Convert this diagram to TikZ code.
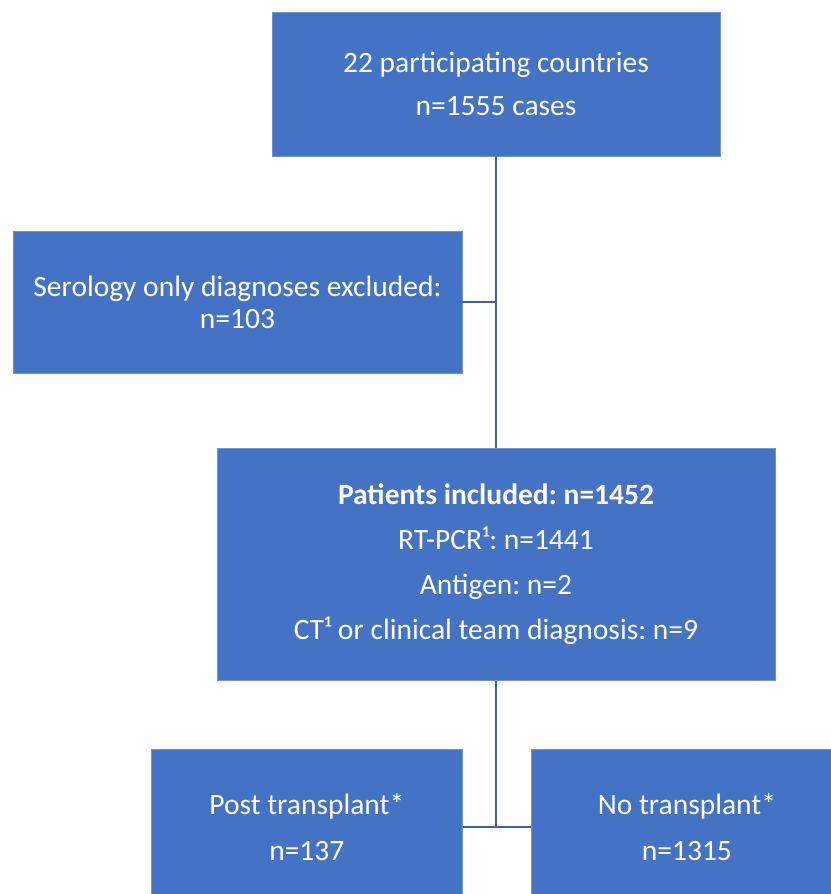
\documentclass[tikz,border=0pt]{standalone}
\usepackage{fontspec}
\setmainfont{Carlito}
\usepackage{xcolor}
\definecolor{boxblue}{HTML}{4472C4}
\definecolor{edgeblue}{HTML}{7393D2}
\definecolor{linkblue}{HTML}{3D62AB}
\usetikzlibrary{positioning}
\frenchspacing

\begin{document}
\begin{tikzpicture}[x=1pt, y=-1pt, stage/.style={
    	rectangle, fill = boxblue, draw = edgeblue, line width = 0.6pt,
    	text = white, align = center, inner sep = 0pt,
    	font = \fontsize{29.5}{43}\selectfont},
    	link/.style={draw = linkblue, line width = 2pt}]
    	\useasboundingbox (0,0) rectangle (830,894);
    	\node (countries) [stage, minimum width = 448pt, minimum height = 144pt] at (496,84)
    		{22 participating countries\\n=1555 cases};
    	\node (serology) [stage, minimum width = 449pt, minimum height = 142pt,
    		font = \fontsize{29.5}{32}\selectfont] at (237.5,302)
    		{Serology only diagnoses excluded:\\n=103};
    	\node (included) [stage, minimum width = 558pt, minimum height = 232pt,
    		font = \fontsize{29.5}{45}\selectfont, anchor = north] at (496,448)
    		{\textbf{Patients included: n=1452}\\RT-PCR¹: n=1441\\Antigen: n=2\\CT¹ or clinical team diagnosis: n=9};
    	\node (post) [stage, minimum width = 311pt, minimum height = 156pt, font = \fontsize{29.5}{46}\selectfont,
    		anchor = north west] at (151,749) {Post transplant*\\n=137};
    	\node (none) [stage, minimum width = 312pt, minimum height = 156pt, font = \fontsize{29.5}{46}\selectfont,
    		right = 68pt of post.east, anchor = west] {No transplant*\\n=1315};
    	\draw [link] (countries.south) -- (included.north);
    	\draw [link] (serology.east) -- (serology.east -| countries.south);
    	\draw [link] (included.south) -- (included.south |- post.east);
    	\draw [link] (post.east) -- (none.west);
	\end{tikzpicture}
\end{document}
